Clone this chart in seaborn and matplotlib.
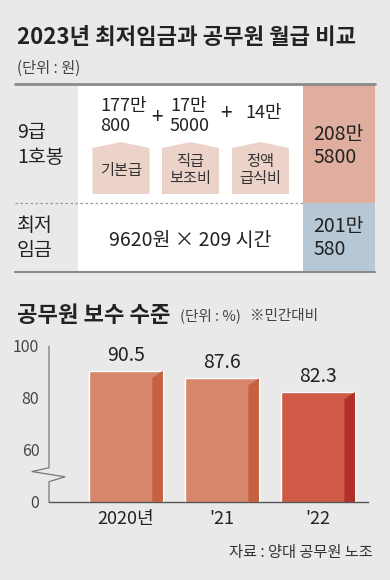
import matplotlib
matplotlib.use("Agg")
import matplotlib.pyplot as plt
from matplotlib.patches import Rectangle, Polygon
import matplotlib.transforms as mtrans
import seaborn as sns

# data
years = ["2020년", "'21", "'22"]
pay_level = [90.5, 87.6, 82.3]          # 공무원 보수 수준 (민간대비 %)
y_ticks = [40, 60, 80, 100]
y_tick_labels = ["0", "60", "80", "100"]  # broken axis: bottom tick is 0

components = ["177만\n800", "17만\n5000", "14만"]
component_names = ["기본급", "직급\n보조비", "정액\n급식비"]
grade9_label = "9급\n1호봉"
grade9_total = "208만\n5800"
minwage_label = "최저\n임금"
minwage_formula = "9620원 × 209 시간"
minwage_total = "201만\n580"

# style
bg = "#e9e9e9"
bar_front = ["#d6866a", "#d6866a", "#cf5a46"]
bar_side = ["#c4613f", "#c4613f", "#b0302a"]

sns.set_style("white")
plt.rcParams["font.family"] = ["Noto Sans CJK KR", "DejaVu Sans"]

fig = plt.figure(figsize=(3.9, 5.8), dpi=100, facecolor=bg)

# overlay in pixel coordinates for the table part
ov = fig.add_axes([0, 0, 1, 1])
ov.set_xlim(0, 390)
ov.set_ylim(580, 0)
ov.axis("off")
ov.set_zorder(0)

ov.text(17, 37, "2023년 최저임금과 공무원 월급 비교", fontsize=16, fontweight="bold",
        color="#222222", va="center", ha="left")
ov.text(17, 68, "(단위 : 원)", fontsize=11, color="#444444", va="center", ha="left")

# table backgrounds
ov.add_patch(Rectangle((78, 84), 225, 188, color="white", lw=0))
ov.add_patch(Rectangle((303, 84), 72, 119, color="#dfae9f", lw=0))
ov.add_patch(Rectangle((303, 203), 72, 69, color="#b6c8d6", lw=0))
ov.plot([15, 375], [84, 84], color="#8a8a8a", lw=2)
ov.plot([15, 375], [272, 272], color="#8a8a8a", lw=1.5)
ov.plot([15, 303], [203, 203], color="#9a9a9a", lw=0.9, ls=(0, (2, 2)))

txt_kw = dict(color="#222222", va="center", ha="left")
ov.text(17, 145, grade9_label, fontsize=14, linespacing=1.3, **txt_kw)
ov.text(17, 238, minwage_label, fontsize=14, linespacing=1.3, **txt_kw)

# components of 9급 salary
comp_x = [100, 170, 245]
comp_y = [116, 116, 113]
for cx, cy, label in zip(comp_x, comp_y, components):
    ov.text(cx, cy, label, fontsize=13, linespacing=1.1, **txt_kw)
for px, py in [(157, 118), (226, 114)]:
    ov.text(px, py, "+", fontsize=15, color="#222222", ha="center", va="center")

box_cx = [121, 190.5, 260.5]
for bx, name in zip(box_cx, component_names):
    w = 57
    ov.add_patch(Polygon([(bx - w / 2, 194), (bx - w / 2, 148), (bx, 142),
                          (bx + w / 2, 148), (bx + w / 2, 194)],
                         closed=True, color="#ecd3c9", lw=0))
    ov.text(bx, 170, name, fontsize=11, color="#333333", ha="center", va="center",
            linespacing=1.05)

ov.text(313, 146, grade9_total, fontsize=14, linespacing=1.1, **txt_kw)
ov.text(313, 238, minwage_total, fontsize=14, linespacing=1.1, **txt_kw)
ov.text(190, 240, minwage_formula, fontsize=14, color="#222222", ha="center", va="center")

# lower chart titles
ov.text(17, 315, "공무원 보수 수준", fontsize=16, fontweight="bold", color="#222222",
        va="center", ha="left")
ov.text(180, 316, "(단위 : %)", fontsize=10.5, color="#444444", va="center", ha="left")
ov.text(250, 316, "※민간대비", fontsize=10.5, color="#444444", va="center", ha="left")
ov.text(373, 553, "자료 : 양대 공무원 노조", fontsize=11, color="#333333",
        va="center", ha="right")

# bar chart
ax = fig.add_axes([49 / 390, 78 / 580, 319 / 390, 156 / 580])
ax.set_zorder(1)
ax.patch.set_alpha(0)
sns.barplot(x=years, y=pay_level, hue=years, palette=bar_front, saturation=1,
            legend=False, width=0.77, ax=ax, zorder=2)
ax.set_ylim(40, 100)
ax.set_xlim(-0.8, 2.52)

ybase = ax.get_ylim()[0]
for p, sc, v in zip(ax.patches, bar_side, pay_level):
    x1 = p.get_x() + p.get_width()
    x0 = x1 - 0.11
    top = p.get_height()
    ax.add_patch(Polygon([(x0, ybase), (x0, top - 2.7), (x1, top), (x1, ybase)],
                         closed=True, color=sc, lw=0, zorder=3))
    ax.annotate(f"{v}", (p.get_x() + p.get_width() / 2, top), xytext=(0, 11),
                textcoords="offset points", ha="center", va="center",
                fontsize=14, color="#222222", annotation_clip=False)

for s in ["top", "right", "left"]:
    ax.spines[s].set_visible(False)
ax.spines["bottom"].set_color("#555555")
ax.spines["bottom"].set_linewidth(1)

ax.set_yticks(y_ticks)
ax.set_yticklabels(y_tick_labels)
ax.tick_params(axis="y", direction="in", length=5, width=0.8, color="#777777",
               labelsize=11.5, labelcolor="#444444", pad=7)
ax.tick_params(axis="x", length=0, labelsize=13, labelcolor="#222222", pad=6)
ax.set_xlabel("")
ax.set_ylabel("")

# broken y axis line with zigzag
tr = mtrans.blended_transform_factory(ax.transAxes, ax.transData)
ax.plot([0, 0, -0.053, 0.05, 0, 0], [100, 53.2, 51.7, 49.7, 47.8, 40],
        color="#777777", lw=0.9, transform=tr, clip_on=False, zorder=4)

fig.savefig("out.png", dpi=100, facecolor=bg)
